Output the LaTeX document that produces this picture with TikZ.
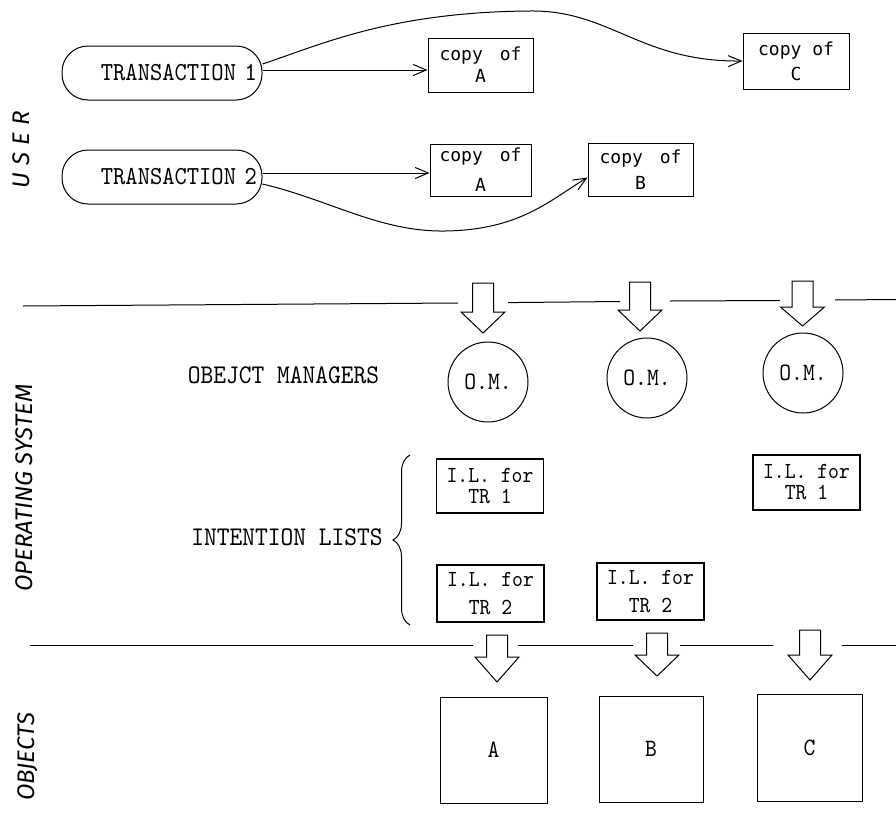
\documentclass[tikz,border=0pt]{standalone}
\usepackage{fontspec}
\usetikzlibrary{arrows.meta,decorations.pathreplacing}
\newfontfamily\tw{lmmono10-regular.otf}[FakeStretch=0.9]
\newfontfamily\gothic{DejaVu Sans Mono}
\newfontfamily\hand{Fira Sans}
\newfontfamily\handwide{Fira Sans}[LetterSpace=30]
\newcommand{\blockarrow}[4]{%
  \draw[barrow,shift={(#1,#2)}] (-10.5,0) -- (10.5,0) -- (10.5,#3) -- (22,#3)
    -- (0,{#3+#4}) -- (-22,#3) -- (-10.5,#3) -- cycle;}
\begin{document}
\begin{tikzpicture}[x=1pt,y=-1pt,
  tbox/.style={draw, line width=1pt, rounded corners=26pt, minimum width=200pt,
    minimum height=54pt, text width=190pt, align=right, inner xsep=5pt, inner ysep=0pt,
    font=\tw\fontsize{26}{30}\selectfont},
  cbox/.style={draw, line width=1pt, inner sep=0pt, align=center,
    font=\gothic\fontsize{18}{22}\selectfont},
  ilbox/.style={draw, line width=1.3pt, inner sep=0pt, align=center, minimum width=107pt,
    font=\tw\fontsize{23}{21}\selectfont},
  om/.style={draw, circle, line width=1pt, minimum size=80pt, inner sep=0pt,
    font=\tw\fontsize{25}{28}\selectfont},
  obj/.style={draw, line width=1pt, inner sep=0pt, font=\tw\fontsize{25}{28}\selectfont},
  lbl/.style={font=\tw\fontsize{27}{30}\selectfont},
  side/.style={rotate=90, font=\hand\itshape\fontsize{24}{28}\selectfont},
  sidewide/.style={rotate=90, font=\handwide\itshape\fontsize{24}{28}\selectfont},
  conn/.style={line width=1pt, -{Straight Barb[length=13pt,width=11pt]}},
  sep/.style={line width=1pt},
  barrow/.style={line width=1pt, line join=miter},
  bracestyle/.style={line width=1pt, decorate, decoration={brace, amplitude=17pt}}
]
\useasboundingbox (0,0) rectangle (896,814);

% side labels
\node[sidewide] (user) at (21,150) {USER};
\node[side] (os) at (24,488) {OPERATING SYSTEM};
\node[side] (objs) at (28,757) {OBJECTS};

% user level
\node[tbox] (t1) at (162,73) {TRANSACTION 1};
\node[tbox] (t2) at (162,177) {TRANSACTION 2};
\node[cbox, minimum width=105pt, minimum height=54pt] (ca1) at (480.5,65) {copy\hspace{6pt} of\\A};
\node[cbox, minimum width=101pt, minimum height=52pt] (ca2) at (480.5,170) {copy\hspace{6pt} of\\[8pt]A};
\node[cbox, minimum width=105pt, minimum height=53pt] (cb) at (640.5,169.5) {copy\hspace{6pt} of\\[4pt]B};
\node[cbox, minimum width=106pt, minimum height=56pt] (cc) at (796,61) {copy of\\[3pt]C};

\path ([yshift=3pt]t1.east) coordinate (s1);
\draw[conn] (s1) -- (s1 -| ca1.west);
\path ([yshift=4pt]t2.east) coordinate (s2);
\draw[conn] (s2) -- (s2 -| ca2.west);
\draw[conn] ([yshift=9pt]t1.east) .. controls (320,45) and (390,12) .. (530,11)
  .. controls (610,10) and (640,62) .. (cc.west);
\draw[conn] ([yshift=-7pt]t2.east) .. controls (330,200) and (380,232) .. (445,231)
  .. controls (520,230) and (550,200) .. ([yshift=-8pt]cb.west);

% upper separator
\draw[sep] (23,306) -- (458,303);
\draw[sep] (508,302.6) -- (620,301.5);
\draw[sep] (670,301) -- (780,300.5);
\draw[sep] (835,300) -- (896,299.5);
\blockarrow{483}{283}{29}{21}
\blockarrow{640}{282}{28}{21}
\blockarrow{802.5}{281}{26}{19}

% operating system
\node[lbl] (omlabel) at (283.5,375) {OBEJCT MANAGERS};
\node[om] (om1) at (488,382) {O.M.};
\node[om] (om2) at (647,378) {O.M.};
\node[om] (om3) at (803,373) {O.M.};

\node[lbl] (illabel) at (287,537) {INTENTION LISTS};
\coordinate (brtop) at (410,455);
\coordinate (brbot) at (410,625);
\draw[bracestyle] (brbot) -- (brtop);
\node[ilbox, minimum height=54pt] (il1) at (490,486) {I.L. for\\TR 1};
\node[ilbox, minimum height=55pt] (il2) at (806.5,482.5) {I.L. for\\TR 1};
\node[ilbox, minimum height=57pt] (il3) at (490.5,593.5) {I.L. for\\[7pt]TR 2};
\node[ilbox, minimum height=57pt] (il4) at (650.5,591.5) {I.L. for\\[7pt]TR 2};

% lower separator
\draw[sep] (30,645) -- (473,645);
\draw[sep] (518,645) -- (633,645);
\draw[sep] (680,645) -- (773,645);
\draw[sep] (842,645) -- (896,645);
\blockarrow{497}{635}{22}{25}
\blockarrow{657}{633}{22}{21}
\blockarrow{810}{630}{25}{25}

% objects
\node[obj, minimum width=107pt, minimum height=106pt] (oa) at (493.5,750) {A};
\node[obj, minimum width=104pt, minimum height=106pt] (ob) at (651,749) {B};
\node[obj, minimum width=105pt, minimum height=107pt] (oc) at (809.5,747.5) {C};
\end{tikzpicture}
\end{document}
